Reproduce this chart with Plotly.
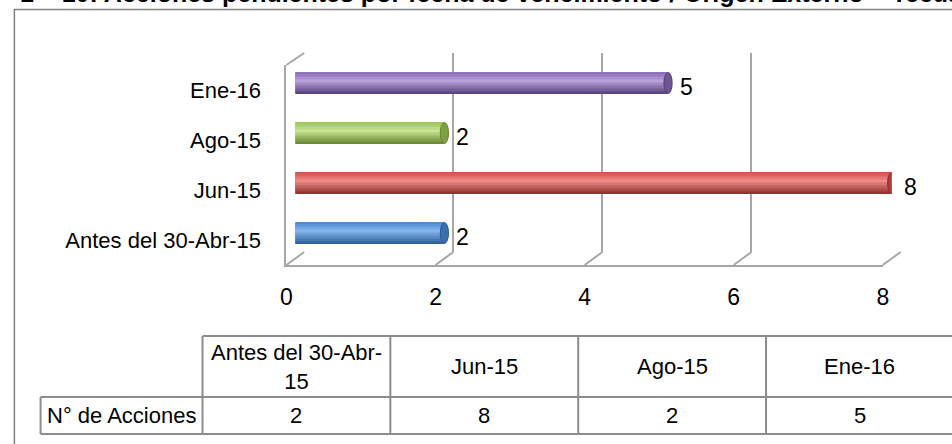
import plotly.graph_objects as go

# ---------------- data ----------------
categories = ["Antes del 30-Abr-15", "Jun-15", "Ago-15", "Ene-16"]
values = [2, 8, 2, 5]
x_ticks = [0, 2, 4, 6, 8]
table_header = ["Antes del 30-Abr-<br>15", "Jun-15", "Ago-15", "Ene-16"]
row_label = "N° de Acciones"
title_text = "1 – 10: Acciones pendientes por fecha de vencimiento / Origen Externo – Tecuador"

# ---------------- styling / geometry ----------------
W, H = 952, 444
FONT = "Liberation Sans Narrow, Arial Narrow, Liberation Sans, Arial, sans-serif"
GRID = "#a6a6a6"
TABLE_LINE = "#8c8c8c"
LABEL_SIZE = 22

def px(x):
    return x / W

def py(y):
    return 1 - y / H

X_RANGE = [0, 8]
back_x, back_y = (302, 906), (53, 252)     # back wall of the 3-D box
bar_x, bar_y = (293, 897), (58, 258)       # plane where the cylinders sit
front_x, front_y = (284, 888), (65, 265)   # front edge (axis labels)

# per-category colours: (dark, mid, light)
palette = [
    ("#2c5d96", "#4a86cf", "#86b6ee"),  # blue
    ("#8c302d", "#d0504c", "#ee8c89"),  # red
    ("#66862f", "#9bc45a", "#c8e594"),  # green
    ("#56407a", "#8a6cb3", "#baa2dc"),  # purple
]

def hex2rgb(h):
    h = h.lstrip("#")
    return [int(h[i:i + 2], 16) for i in (0, 2, 4)]

def mix(c1, c2, t):
    a, b = hex2rgb(c1), hex2rgb(c2)
    return "rgb(%d,%d,%d)" % tuple(round(a[i] + (b[i] - a[i]) * t) for i in range(3))

def shade(dark, mid, light, t):
    # t=0 bottom of cylinder, t=1 top
    if t < 0.62:
        return mix(dark, light, t / 0.62)
    return mix(light, mid, (t - 0.62) / 0.38)

fig = go.Figure()

# invisible trace for back-wall subplot
fig.add_trace(go.Scatter(x=[0], y=[0], xaxis="x", yaxis="y", mode="markers",
                         marker=dict(opacity=0), hoverinfo="skip", showlegend=False))

# cylinder bars built from gradient bands
BAR_W = 0.42
N = 14
for k in range(N):
    t = (k + 0.5) / N
    cols = [shade(d, m, l, t) for (d, m, l) in palette]
    fig.add_trace(go.Bar(
        x=values, y=categories, orientation="h", xaxis="x2", yaxis="y2",
        width=BAR_W / N + 0.004, offset=-BAR_W / 2 + k * BAR_W / N,
        marker=dict(color=cols, line=dict(width=0)),
        hoverinfo="skip", showlegend=False,
    ))

# invisible trace for front-axis subplot
fig.add_trace(go.Scatter(x=[0] * len(categories), y=categories, xaxis="x3", yaxis="y3",
                         mode="markers", marker=dict(opacity=0), hoverinfo="skip",
                         showlegend=False))

shapes = []
cap = 0.055
for i, v in enumerate(values):
    d, m, l = palette[i]
    # rounded start (below bars)
    shapes.append(dict(type="circle", xref="x2", yref="y2", layer="below",
                       x0=-cap, x1=cap, y0=i - BAR_W / 2, y1=i + BAR_W / 2,
                       fillcolor=m, line=dict(width=0)))
    # end cap
    shapes.append(dict(type="circle", xref="x2", yref="y2", layer="above",
                       x0=v - cap, x1=v + cap, y0=i - BAR_W / 2, y1=i + BAR_W / 2,
                       fillcolor=mix(d, m, 0.45), line=dict(width=1, color=d)))

# 3-D box connectors between front edge and back wall
def fpos(t):
    return front_x[0] + (t - X_RANGE[0]) / (X_RANGE[1] - X_RANGE[0]) * (front_x[1] - front_x[0])

def bpos(t):
    return back_x[0] + (t - X_RANGE[0]) / (X_RANGE[1] - X_RANGE[0]) * (back_x[1] - back_x[0])

for t in x_ticks:
    shapes.append(dict(type="line", xref="paper", yref="paper",
                       x0=px(fpos(t)), y0=py(front_y[1]), x1=px(bpos(t)), y1=py(back_y[1]),
                       line=dict(color=GRID, width=2)))
shapes.append(dict(type="line", xref="paper", yref="paper",
                   x0=px(front_x[0]), y0=py(front_y[0]), x1=px(back_x[0]), y1=py(back_y[0]),
                   line=dict(color=GRID, width=2)))

# outer chart border
shapes.append(dict(type="rect", xref="paper", yref="paper",
                   x0=px(8.5), y0=py(450), x1=px(960), y1=py(9.5),
                   line=dict(color="#808080", width=1.5), fillcolor="rgba(0,0,0,0)"))

# data table
label_left, label_right = 35, 199
col_w = 190.25
edges = [label_right + k * col_w for k in range(len(categories) + 1)]
row_top, row_mid, row_bot = 336, 397, 434
tl = dict(color=TABLE_LINE, width=2)
shapes.append(dict(type="line", xref="paper", yref="paper",
                   x0=px(label_right), x1=px(edges[-1]), y0=py(row_top), y1=py(row_top), line=tl))
for yy in (row_mid, row_bot):
    shapes.append(dict(type="line", xref="paper", yref="paper",
                       x0=px(label_left), x1=px(edges[-1]), y0=py(yy), y1=py(yy), line=tl))
shapes.append(dict(type="line", xref="paper", yref="paper",
                   x0=px(label_left), x1=px(label_left), y0=py(row_mid), y1=py(row_bot), line=tl))
for e in edges:
    shapes.append(dict(type="line", xref="paper", yref="paper",
                       x0=px(e), x1=px(e), y0=py(row_top), y1=py(row_bot), line=tl))

annotations = []
for i, v in enumerate(values):
    annotations.append(dict(xref="x2", yref="y2", x=v, y=categories[i], text=str(v),
                            xanchor="left", yanchor="middle", xshift=10, yshift=-4,
                            showarrow=False, font=dict(family=FONT, size=23, color="black")))

for i, (h, v) in enumerate(zip(table_header, values)):
    cx = (edges[i] + edges[i + 1]) / 2
    annotations.append(dict(xref="paper", yref="paper", x=px(cx), y=py((row_top + row_mid) / 2),
                            text=h, showarrow=False, xanchor="center", yanchor="middle",
                            font=dict(family=FONT, size=LABEL_SIZE, color="black")))
    annotations.append(dict(xref="paper", yref="paper", x=px(cx), y=py((row_mid + row_bot) / 2),
                            text=str(v), showarrow=False, xanchor="center", yanchor="middle",
                            font=dict(family=FONT, size=LABEL_SIZE, color="black")))
annotations.append(dict(xref="paper", yref="paper", x=px((label_left + label_right) / 2),
                        y=py((row_mid + row_bot) / 2), text=row_label, showarrow=False,
                        xanchor="center", yanchor="middle",
                        font=dict(family=FONT, size=LABEL_SIZE, color="black")))

# title, clipped by the top edge as in the reference
annotations.append(dict(xref="paper", yref="paper", x=px(12), y=py(9), text="<b>" + title_text + "</b>",
                        showarrow=False, xanchor="left", yanchor="bottom",
                        font=dict(family="Liberation Sans, Arial, sans-serif", size=25, color="black")))

fig.update_layout(
    width=W, height=H,
    margin=dict(l=0, r=0, t=0, b=0),
    paper_bgcolor="white", plot_bgcolor="rgba(0,0,0,0)",
    barmode="overlay", bargap=0,
    showlegend=False,
    font=dict(family=FONT, color="black"),
    shapes=shapes, annotations=annotations,
    xaxis=dict(domain=[px(back_x[0]), px(back_x[1])], range=X_RANGE, anchor="y",
               showgrid=True, gridcolor=GRID, gridwidth=2, tick0=0, dtick=2,
               showticklabels=False, zeroline=False, showline=False, ticks=""),
    yaxis=dict(domain=[py(back_y[1]), py(back_y[0])], range=[0, 1], anchor="x",
               showgrid=False, showticklabels=False, zeroline=False, showline=False),
    xaxis2=dict(domain=[px(bar_x[0]), px(bar_x[1])], range=X_RANGE, anchor="y2",
                visible=False),
    yaxis2=dict(domain=[py(bar_y[1]), py(bar_y[0])], range=[-0.5, len(categories) - 0.5],
                anchor="x2", type="category", categoryorder="array",
                categoryarray=categories, visible=False),
    xaxis3=dict(domain=[px(front_x[0]), px(front_x[1])], range=X_RANGE, anchor="y3",
                tickvals=x_ticks, ticktext=[str(t) for t in x_ticks],
                showline=True, linecolor=GRID, linewidth=2, showgrid=False,
                zeroline=False, ticks="", ticklabelstandoff=10,
                tickfont=dict(family=FONT, size=23, color="black")),
    yaxis3=dict(domain=[py(front_y[1]), py(front_y[0])], range=[-0.5, len(categories) - 0.5],
                anchor="x3", type="category", categoryorder="array", categoryarray=categories,
                showline=True, linecolor=GRID, linewidth=2, showgrid=False, zeroline=False,
                ticks="", ticklabelstandoff=19,
                tickfont=dict(family=FONT, size=LABEL_SIZE, color="black")),
)

fig.write_html(
    "out.html",
    config={"displayModeBar": False, "staticPlot": True},
    post_script="document.body.style.margin='0';document.body.style.overflow='hidden';",
)
